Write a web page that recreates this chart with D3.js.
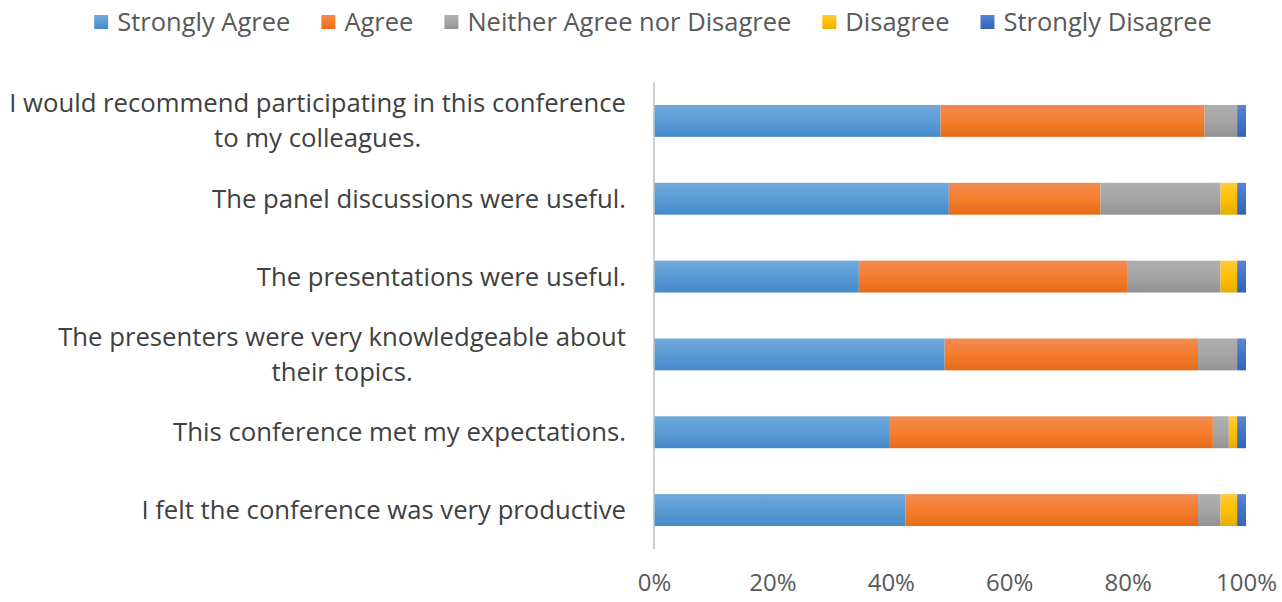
<!DOCTYPE html>
<html>
<head>
<meta charset="utf-8">
<script src="https://cdn.jsdelivr.net/npm/d3@7"></script>
<style>
  body { margin: 0; background: #fff; }
  svg { display: block; font-family: "Open Sans", sans-serif; }
</style>
</head>
<body>
<svg></svg>
<script>
// Survey statements (top to bottom), already wrapped as in the original
const statements = [
    ["I would recommend participating in this conference", "to my colleagues."],
    ["The panel discussions were useful."],
    ["The presentations were useful."],
    ["The presenters were very knowledgeable about", "their topics."],
    ["This conference met my expectations."],
    ["I felt the conference was very productive"]
];

const seriesNames = ["Strongly Agree", "Agree", "Neither Agree nor Disagree", "Disagree", "Strongly Disagree"];

// Percent of responses per statement, same order as statements
const stronglyAgree = [48.4, 49.8, 34.6, 49.1, 39.7, 42.5];
const agree         = [44.6, 25.6, 45.3, 42.8, 54.7, 49.4];
const neither       = [5.5, 20.3, 15.8, 6.6, 2.7, 3.8];
const disagree      = [0, 2.8, 2.8, 0, 1.4, 2.8];
const stronglyDis   = [1.5, 1.5, 1.5, 1.5, 1.5, 1.5];

const tickValues = [0, 0.2, 0.4, 0.6, 0.8, 1];

// colours: [top of gradient, middle, bottom]
const palette = [
    ["#6fa8dc", "#5b9bd5", "#4589c9"],
    ["#f18c55", "#f47d2c", "#e56b18"],
    ["#afafaf", "#a5a5a5", "#939393"],
    ["#ffc93d", "#ffc000", "#e6ad00"],
    ["#5a85d2", "#4472c4", "#3563b8"]
];

const svgWidth = 1282, svgHeight = 602;
const margin = { top: 82, right: 36, bottom: 53, left: 654 };
const chartWidth = svgWidth - margin.left - margin.right;
const chartHeight = svgHeight - margin.top - margin.bottom;

const svg = d3.select("svg")
    .attr("width", svgWidth)
    .attr("height", svgHeight);

// gradients for the bar fills
const defs = svg.append("defs");
palette.forEach((c, i) => {
    const g = defs.append("linearGradient")
        .attr("id", "grad" + i)
        .attr("x1", 0).attr("y1", 0).attr("x2", 0).attr("y2", 1);
    g.append("stop").attr("offset", "0%").attr("stop-color", c[0]);
    g.append("stop").attr("offset", "50%").attr("stop-color", c[1]);
    g.append("stop").attr("offset", "100%").attr("stop-color", c[2]);
});

const rows = statements.map((s, i) => ({
    key: i,
    "Strongly Agree": stronglyAgree[i],
    "Agree": agree[i],
    "Neither Agree nor Disagree": neither[i],
    "Disagree": disagree[i],
    "Strongly Disagree": stronglyDis[i]
}));

const stack = d3.stack().keys(seriesNames).offset(d3.stackOffsetExpand);
const stacked = stack(rows);

const xScale = d3.scaleLinear().domain([0, 1]).range([0, chartWidth]);
const yScale = d3.scaleBand()
    .domain(d3.range(statements.length))
    .range([0, chartHeight])
    .paddingInner(0.59)
    .paddingOuter(0.295);

const chart = svg.append("g")
    .attr("transform", `translate(${margin.left},${margin.top})`);

chart.selectAll(".series")
    .data(stacked)
    .join("g")
    .attr("class", "series")
    .attr("fill", (d, i) => `url(#grad${i})`)
    .selectAll("rect")
    .data(d => d)
    .join("rect")
    .attr("x", d => xScale(d[0]))
    .attr("width", d => Math.max(0, xScale(d[1]) - xScale(d[0])))
    .attr("y", d => yScale(d.data.key))
    .attr("height", yScale.bandwidth());

// vertical category axis line
chart.append("line")
    .attr("x1", 0).attr("x2", 0)
    .attr("y1", 0).attr("y2", chartHeight)
    .attr("stroke", "#bfbfbf")
    .attr("stroke-width", 1.5);

// x axis tick labels
const xAxis = chart.append("g")
    .attr("transform", `translate(0,${chartHeight})`)
    .call(d3.axisBottom(xScale).tickValues(tickValues).tickFormat(d3.format(".0%")).tickSize(0).tickPadding(25));
xAxis.select(".domain").remove();
xAxis.selectAll("text")
    .attr("fill", "#595959")
    .style("font-size", "24px")
    .style("font-family", "'Open Sans', sans-serif");

// category labels, lines centred within a right-aligned block
const labelRight = margin.left - 28;
statements.forEach((lines, i) => {
    const g = svg.append("g");
    const cy = margin.top + yScale(i) + yScale.bandwidth() / 2;
    const lh = 35;
    const texts = lines.map((line, j) => g.append("text")
        .attr("y", cy + (j - (lines.length - 1) / 2) * lh)
        .attr("dy", "0.35em")
        .attr("text-anchor", "middle")
        .attr("fill", "#404040")
        .style("font-size", "25.7px")
        .text(line));
    const maxW = d3.max(texts, t => t.node().getComputedTextLength());
    texts.forEach(t => t.attr("x", labelRight - maxW / 2));
});

// legend across the top, centred
const legend = svg.append("g");
let lx = 0;
seriesNames.forEach((name, i) => {
    const item = legend.append("g").attr("transform", `translate(${lx},0)`);
    item.append("rect")
        .attr("x", 0).attr("y", -7)
        .attr("width", 14).attr("height", 14)
        .attr("fill", `url(#grad${i})`);
    const t = item.append("text")
        .attr("x", 23)
        .attr("dy", "0.35em")
        .attr("fill", "#595959")
        .style("font-size", "25.5px")
        .text(name);
    lx += 23 + t.node().getComputedTextLength() + 31;
});
const legendWidth = lx - 31;
legend.attr("transform", `translate(${(svgWidth - legendWidth) / 2 + 12},22)`);
</script>
</body>
</html>
